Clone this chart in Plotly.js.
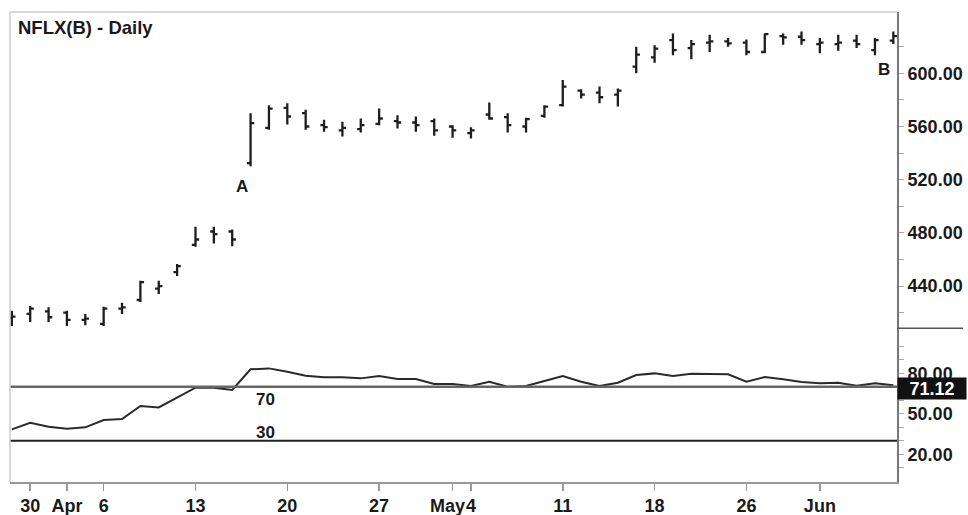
<!DOCTYPE html>
<html>
<head>
<meta charset="utf-8">
<script src="https://cdn.plot.ly/plotly-3.0.1.min.js"></script>
<style>html,body{margin:0;padding:0;background:#fff;}#chart{width:968px;height:515px;}</style>
</head>
<body>
<div id="chart"></div>
<script>
// Trading days (category axis)
var dates = ["2015-03-27","2015-03-30","2015-03-31","2015-04-01","2015-04-02","2015-04-06","2015-04-07","2015-04-08","2015-04-09","2015-04-10",
"2015-04-13","2015-04-14","2015-04-15","2015-04-16","2015-04-17","2015-04-20","2015-04-21","2015-04-22","2015-04-23","2015-04-24",
"2015-04-27","2015-04-28","2015-04-29","2015-04-30","2015-05-01","2015-05-04","2015-05-05","2015-05-06","2015-05-07","2015-05-08",
"2015-05-11","2015-05-12","2015-05-13","2015-05-14","2015-05-15","2015-05-18","2015-05-19","2015-05-20","2015-05-21","2015-05-22",
"2015-05-26","2015-05-27","2015-05-28","2015-05-29","2015-06-01","2015-06-02","2015-06-03","2015-06-04","2015-06-05"];

var openP  = [416,419,421,420,414.5,411.5,423,429.5,438,450.5,
471,481,481,532.5,559,574,570,561,557,558,
562,564,563,564,560,555,569,567,560,568,
576,587,585.5,584,605,612,625,619,623,624,
623,616,628,627.5,622,622,624.5,617.5,624.5];
var highP  = [421.5,425,424,421.5,419,424.5,427.5,444,444,456.5,
484.5,484.5,482.5,570,576,577.5,572.5,565,563.5,566,
573.5,568.5,567.5,566,561,559.5,578,570,566.5,576,
595,588,590,588.5,620,621,630,625,629,626.5,
625.5,630,630,631.5,626.5,629,629,626.5,631.5];
var lowP   = [410,413,413,410,410.5,410,419,428,434,447.5,
469.5,472,470,530,557.5,561.5,557.5,556,552.5,555.5,
561,558.5,556,553,551.5,551,565,555.5,555.5,566.5,
575,581,577.5,575,600,608,613.5,610.5,616,620,
613.5,615,621.5,621.5,615,617,619,613.5,622];
var closeP = [417,423,416.5,414.5,415.5,423,424,443,440,455,
475,479,475,562.5,573.5,567.5,560,559.5,559,561,
566,563,561,557,557,557,566,561,565.5,575,
590,584,582,587,614,618.5,617.5,622,624,622.5,
616,629.5,627,625,623,623,622,625,628];

var rsi = [38.4,43.3,40.4,38.9,39.9,45.3,46.1,55.7,54.7,62.1,
69.3,69.3,67.6,82.9,83.6,81.1,78.1,77.0,77.0,76.2,
77.9,75.7,75.7,72.0,72.0,70.5,73.7,70.0,70.5,74.2,
77.9,73.7,70.5,73.0,78.7,79.9,77.9,79.6,79.6,79.2,
73.7,77.2,75.5,73.5,72.5,73.0,70.7,72.5,71.12];

var xTickVals = ["2015-03-30","2015-04-01","2015-04-06","2015-04-13","2015-04-20","2015-04-27","2015-05-01","2015-05-04","2015-05-11","2015-05-18","2015-05-26","2015-06-01"];
var xTickText = ["30","Apr","6","13","20","27","May\u00a0\u00a0","4","11","18","26","Jun"];
var priceTickVals = [440,480,520,560,600];
var priceMinorVals = [420,460,500,540,580,620];
var rsiTickVals = [20,50,80];
var rsiMinorVals = [10,30,40,60,70,90,100];

var FONT = "Liberation Sans, Arial, sans-serif";
var INK = "#1a1a1a";

var traces = [
  {
    type: "ohlc", x: dates, open: openP, high: highP, low: lowP, close: closeP,
    xaxis: "x", yaxis: "y", tickwidth: 0.2, showlegend: false, hoverinfo: "skip",
    increasing: {line: {color: "#1e1e1e", width: 2.3}},
    decreasing: {line: {color: "#1e1e1e", width: 2.3}}
  },
  {
    type: "scatter", mode: "lines", x: dates, y: rsi, xaxis: "x", yaxis: "y2",
    line: {color: "#2a2a2a", width: 2}, showlegend: false, hoverinfo: "skip"
  }
];

var layout = {
  width: 968, height: 515,
  margin: {l: 10, r: 71, t: 12, b: 33},
  paper_bgcolor: "#fff", plot_bgcolor: "#fff",
  font: {family: FONT, color: INK},
  showlegend: false,
  xaxis: {
    type: "category", range: [-0.1, 48.2], anchor: "y2",
    rangeslider: {visible: false},
    tickmode: "array", tickvals: xTickVals, ticktext: xTickText,
    ticks: "outside", ticklen: 7, tickcolor: "#999", tickwidth: 1.5,
    tickfont: {family: FONT, size: 18, weight: "bold", color: INK},
    showline: true, linecolor: "#999", linewidth: 1.5,
    showgrid: false, zeroline: false, tickangle: 0, fixedrange: true
  },
  yaxis: {
    domain: [0.327, 1], range: [408.2, 646.1], side: "right", anchor: "x",
    tickmode: "array", tickvals: priceTickVals,
    ticktext: priceTickVals.map(function(v){return v.toFixed(2);}),
    ticks: "outside", ticklen: 5, tickcolor: "#aaa", tickwidth: 1,
    minor: {tickmode: "array", tickvals: priceMinorVals, ticks: "outside", ticklen: 5, tickcolor: "#aaa"},
    tickfont: {family: FONT, size: 18, weight: "bold", color: INK},
    showline: true, linecolor: "#777", linewidth: 2,
    showgrid: false, zeroline: false, fixedrange: true
  },
  yaxis2: {
    domain: [0, 0.327], range: [-0.6, 113.3], side: "right", anchor: "x",
    tickmode: "array", tickvals: rsiTickVals,
    ticktext: rsiTickVals.map(function(v){return v.toFixed(2);}),
    ticks: "outside", ticklen: 5, tickcolor: "#aaa", tickwidth: 1,
    minor: {tickmode: "array", tickvals: rsiMinorVals, ticks: "outside", ticklen: 5, tickcolor: "#aaa"},
    tickfont: {family: FONT, size: 18, weight: "bold", color: INK},
    showline: true, linecolor: "#777", linewidth: 2,
    showgrid: false, zeroline: false, fixedrange: true
  },
  shapes: [
    {type: "line", xref: "paper", yref: "y2", x0: 0, x1: 1, y0: 70, y1: 70, line: {color: "#666", width: 2.5}},
    {type: "line", xref: "paper", yref: "y2", x0: 0, x1: 1, y0: 30, y1: 30, line: {color: "#222", width: 2}},
    {type: "line", xref: "paper", yref: "paper", x0: 0, x1: 1, y0: 1, y1: 1, line: {color: "#ccc", width: 1.5}},
    {type: "line", xref: "paper", yref: "paper", x0: 0, x1: 0, y0: 0, y1: 1, line: {color: "#ccc", width: 1.5}},
    {type: "line", xref: "paper", yref: "paper", x0: 1, x1: 1.0744, y0: 0.327, y1: 0.327, line: {color: "#555", width: 1.5}}
  ],
  annotations: [
    {xref: "paper", yref: "paper", x: 0.0068, y: 0.968, xanchor: "left", yanchor: "middle", showarrow: false,
     text: "NFLX(B) - Daily", font: {family: FONT, size: 18.5, weight: "bold", color: INK}},
    {xref: "paper", yref: "paper", x: 0.2616, y: 0.6277, xanchor: "center", yanchor: "middle", showarrow: false,
     text: "A", font: {family: FONT, size: 17, weight: "bold", color: INK}},
    {xref: "paper", yref: "paper", x: 0.9853, y: 0.8766, xanchor: "center", yanchor: "middle", showarrow: false,
     text: "B", font: {family: FONT, size: 17, weight: "bold", color: INK}},
    {xref: "paper", yref: "paper", x: 0.2875, y: 0.1745, xanchor: "center", yanchor: "middle", showarrow: false,
     text: "70", font: {family: FONT, size: 17, weight: "bold", color: INK}},
    {xref: "paper", yref: "paper", x: 0.2875, y: 0.1043, xanchor: "center", yanchor: "middle", showarrow: false,
     text: "30", font: {family: FONT, size: 17, weight: "bold", color: INK}},
    {xref: "paper", yref: "y2", x: 1, y: rsi[rsi.length - 1], xanchor: "left", yanchor: "middle", yshift: -3,
     showarrow: false, text: rsi[rsi.length - 1].toFixed(2), bgcolor: "#111", width: 66, height: 19, borderpad: 1,
     align: "center", font: {family: FONT, size: 18, weight: "bold", color: "#fff"}}
  ]
};

Plotly.newPlot("chart", traces, layout, {staticPlot: true, displayModeBar: false});
</script>
</body>
</html>
